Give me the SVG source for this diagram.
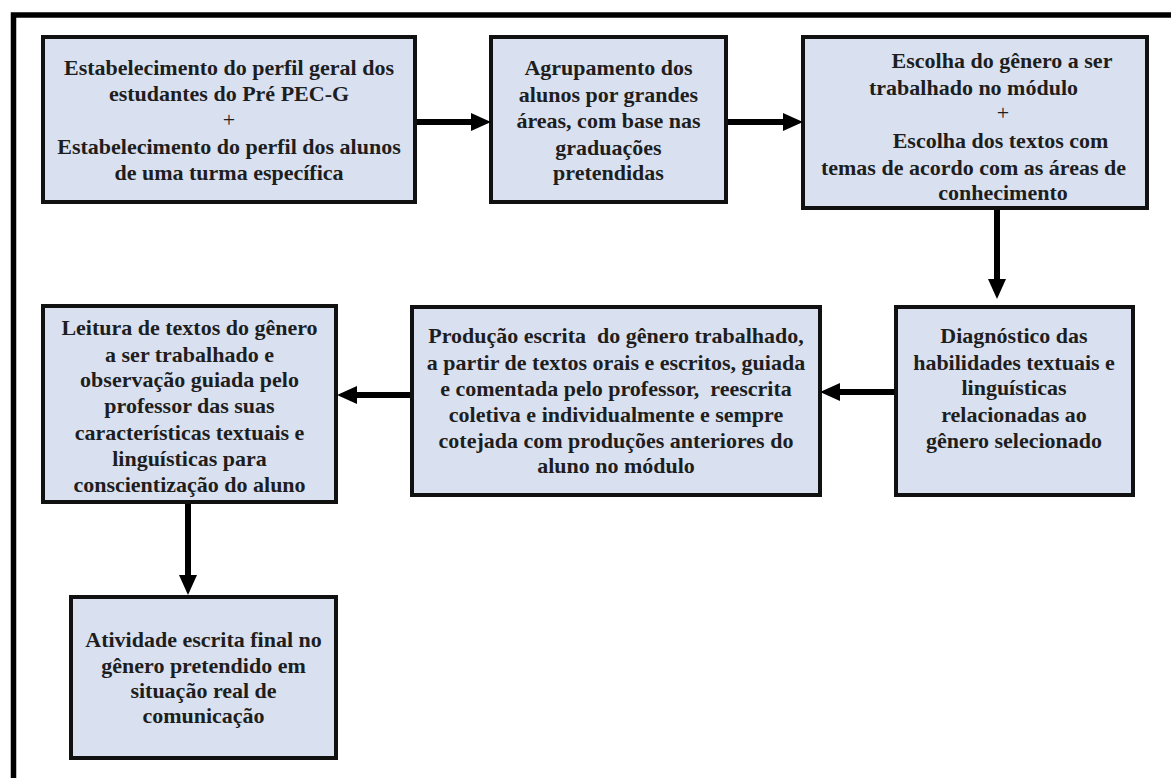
<svg xmlns="http://www.w3.org/2000/svg" width="1171" height="778" viewBox="0 0 1171 778">
<defs>
<style>
.box{fill:#d9e1f1;stroke:#111;stroke-width:4}
text{font-family:'Liberation Serif','Times New Roman','DejaVu Serif',serif;font-size:22px;fill:#1e1e1e;text-anchor:middle}
.t{font-weight:bold}
.p{font-weight:normal}
.c{stroke:#000;stroke-width:6;fill:none;marker-end:url(#ah)}
.frame{stroke:#000;stroke-width:5.5;fill:none}
</style>
<marker id="ah" markerUnits="userSpaceOnUse" markerWidth="20" markerHeight="18" viewBox="0 0 20 18" refX="8" refY="9" orient="auto">
<path d="M0,0 L20,9 L0,18 z" fill="#000"/>
</marker>
</defs>
<rect width="1171" height="778" fill="#fff"/>
<path class="frame" d="M13.5,778 L13.5,15 L1171,15"/>

<g id="n1">
<rect class="box" x="43" y="37" width="372" height="165"/>
<text class="t" x="229" y="75">Estabelecimento do perfil geral dos</text>
<text class="t" x="229" y="101">estudantes do Pré PEC-G</text>
<text class="p" x="229" y="127">+</text>
<text class="t" x="229" y="154">Estabelecimento do perfil dos alunos</text>
<text class="t" x="229" y="180">de uma turma específica</text>
</g>

<g id="n2">
<rect class="box" x="491" y="37" width="235" height="165"/>
<text class="t" x="608.5" y="75">Agrupamento dos</text>
<text class="t" x="608.5" y="102">alunos por grandes</text>
<text class="t" x="608.5" y="128">áreas, com base nas</text>
<text class="t" x="608.5" y="155">graduações</text>
<text class="t" x="608.5" y="180">pretendidas</text>
</g>

<g id="n3">
<rect class="box" x="803" y="37" width="344" height="171"/>
<text class="t" x="1002" y="68">Escolha do gênero a ser</text>
<text class="t" x="973.5" y="95">trabalhado no módulo</text>
<text class="p" x="1003" y="120">+</text>
<text class="t" x="1000.5" y="148">Escolha dos textos com</text>
<text class="t" x="973.5" y="175">temas de acordo com as áreas de</text>
<text class="t" x="1003" y="200">conhecimento</text>
</g>

<g id="n4">
<rect class="box" x="43" y="306" width="293" height="196"/>
<text class="t" x="189.5" y="335">Leitura de textos do gênero</text>
<text class="t" x="189.5" y="362">a ser trabalhado e</text>
<text class="t" x="189.5" y="387">observação guiada pelo</text>
<text class="t" x="189.5" y="413">professor das suas</text>
<text class="t" x="189.5" y="440">características textuais e</text>
<text class="t" x="189.5" y="466">linguísticas para</text>
<text class="t" x="189.5" y="492">conscientização do aluno</text>
</g>

<g id="n5">
<rect class="box" x="412" y="307" width="408" height="188"/>
<text class="t" x="616" y="343" xml:space="preserve">Produção escrita  do gênero trabalhado,</text>
<text class="t" x="616" y="370">a partir de textos orais e escritos, guiada</text>
<text class="t" x="616" y="396" xml:space="preserve">e comentada pelo professor,  reescrita</text>
<text class="t" x="616" y="422">coletiva e individualmente e sempre</text>
<text class="t" x="616" y="448">cotejada com produções anteriores do</text>
<text class="t" x="616" y="473">aluno no módulo</text>
</g>

<g id="n6">
<rect class="box" x="896" y="307" width="237" height="188"/>
<text class="t" x="1014" y="343">Diagnóstico das</text>
<text class="t" x="1014" y="370">habilidades textuais e</text>
<text class="t" x="1014" y="395">linguísticas</text>
<text class="t" x="1014" y="422">relacionadas ao</text>
<text class="t" x="1014" y="448">gênero selecionado</text>
</g>

<g id="n7">
<rect class="box" x="71" y="597" width="265" height="161"/>
<text class="t" x="203.5" y="647">Atividade escrita final no</text>
<text class="t" x="203.5" y="673">gênero pretendido em</text>
<text class="t" x="203.5" y="698">situação real de</text>
<text class="t" x="203.5" y="723">comunicação</text>
</g>

<g id="connectors">
<line class="c" x1="417" y1="122" x2="479" y2="122"/>
<line class="c" x1="728" y1="122" x2="791" y2="122"/>
<line class="c" x1="997" y1="210" x2="997" y2="287"/>
<line class="c" x1="894" y1="392" x2="832" y2="392"/>
<line class="c" x1="410" y1="395" x2="349" y2="395"/>
<line class="c" x1="188" y1="504" x2="188" y2="583"/>
</g>
</svg>
